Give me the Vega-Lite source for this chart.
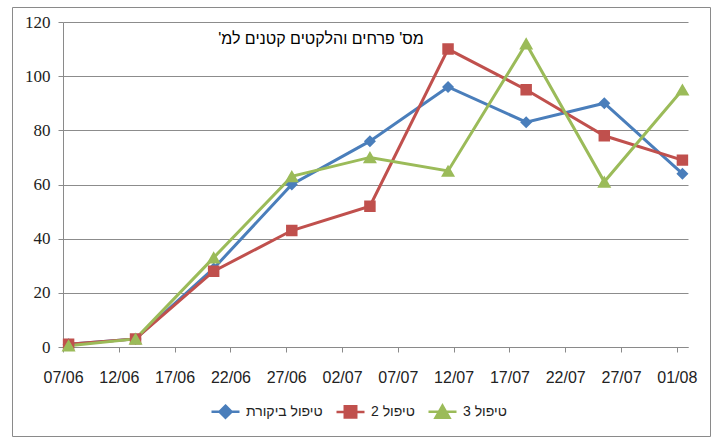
{
  "$schema": "https://vega.github.io/schema/vega-lite/v6.json",
  "width": 698,
  "height": 429,
  "autosize": "none",
  "padding": {"left": 12, "top": 7, "right": 7, "bottom": 3},
  "background": "white",
  "config": {
    "view": {"stroke": "#8a8a8a", "strokeWidth": 1},
    "font": "Liberation Sans"
  },
  "title": {
    "text": "מס' פרחים והלקטים קטנים למ'\u200F",
    "orient": "top",
    "anchor": "middle",
    "frame": "group",
    "offset": -53,
    "dx": -40,
    "baseline": "alphabetic",
    "font": "Liberation Sans",
    "fontSize": 16,
    "fontWeight": "normal",
    "color": "#000000"
  },
  "data": {
    "values": [
      {"date": "2012-06-07T12:00:00Z", "series": "טיפול ביקורת", "value": 1},
      {"date": "2012-06-13T12:00:00Z", "series": "טיפול ביקורת", "value": 3},
      {"date": "2012-06-20T12:00:00Z", "series": "טיפול ביקורת", "value": 29},
      {"date": "2012-06-27T12:00:00Z", "series": "טיפול ביקורת", "value": 60},
      {"date": "2012-07-04T12:00:00Z", "series": "טיפול ביקורת", "value": 76},
      {"date": "2012-07-11T12:00:00Z", "series": "טיפול ביקורת", "value": 96},
      {"date": "2012-07-18T12:00:00Z", "series": "טיפול ביקורת", "value": 83},
      {"date": "2012-07-25T12:00:00Z", "series": "טיפול ביקורת", "value": 90},
      {"date": "2012-08-01T12:00:00Z", "series": "טיפול ביקורת", "value": 64},
      {"date": "2012-06-07T12:00:00Z", "series": "טיפול 2", "value": 1},
      {"date": "2012-06-13T12:00:00Z", "series": "טיפול 2", "value": 3},
      {"date": "2012-06-20T12:00:00Z", "series": "טיפול 2", "value": 28},
      {"date": "2012-06-27T12:00:00Z", "series": "טיפול 2", "value": 43},
      {"date": "2012-07-04T12:00:00Z", "series": "טיפול 2", "value": 52},
      {"date": "2012-07-11T12:00:00Z", "series": "טיפול 2", "value": 110},
      {"date": "2012-07-18T12:00:00Z", "series": "טיפול 2", "value": 95},
      {"date": "2012-07-25T12:00:00Z", "series": "טיפול 2", "value": 78},
      {"date": "2012-08-01T12:00:00Z", "series": "טיפול 2", "value": 69},
      {"date": "2012-06-07T12:00:00Z", "series": "טיפול 3", "value": 0.5},
      {"date": "2012-06-13T12:00:00Z", "series": "טיפול 3", "value": 3},
      {"date": "2012-06-20T12:00:00Z", "series": "טיפול 3", "value": 33},
      {"date": "2012-06-27T12:00:00Z", "series": "טיפול 3", "value": 63},
      {"date": "2012-07-04T12:00:00Z", "series": "טיפול 3", "value": 70},
      {"date": "2012-07-11T12:00:00Z", "series": "טיפול 3", "value": 65},
      {"date": "2012-07-18T12:00:00Z", "series": "טיפול 3", "value": 112},
      {"date": "2012-07-25T12:00:00Z", "series": "טיפול 3", "value": 61},
      {"date": "2012-08-01T12:00:00Z", "series": "טיפול 3", "value": 95}
    ]
  },
  "encoding": {
    "x": {
      "field": "date",
      "type": "temporal",
      "title": null,
      "scale": {
        "type": "utc",
        "domain": [
          {"year": 2012, "month": 6, "date": 7, "utc": true},
          {"year": 2012, "month": 8, "date": 2, "utc": true}
        ],
        "range": [51, 676]
      },
      "axis": {
        "orient": "bottom",
        "offset": -89,
        "values": [
          {"year": 2012, "month": 6, "date": 7, "utc": true},
          {"year": 2012, "month": 6, "date": 12, "utc": true},
          {"year": 2012, "month": 6, "date": 17, "utc": true},
          {"year": 2012, "month": 6, "date": 22, "utc": true},
          {"year": 2012, "month": 6, "date": 27, "utc": true},
          {"year": 2012, "month": 7, "date": 2, "utc": true},
          {"year": 2012, "month": 7, "date": 7, "utc": true},
          {"year": 2012, "month": 7, "date": 12, "utc": true},
          {"year": 2012, "month": 7, "date": 17, "utc": true},
          {"year": 2012, "month": 7, "date": 22, "utc": true},
          {"year": 2012, "month": 7, "date": 27, "utc": true},
          {"year": 2012, "month": 8, "date": 1, "utc": true}
        ],
        "labelExpr": "utcFormat(datum.value, '%d/%m')",
        "grid": false,
        "domainColor": "#8a8a8a",
        "tickColor": "#8a8a8a",
        "tickSize": 5,
        "labelPadding": 17,
        "labelDx": 6,
        "labelFont": "Liberation Sans",
        "labelFontSize": 16,
        "labelColor": "#222222",
        "labelAngle": 0,
        "labelOverlap": false,
        "labelFlush": false
      }
    },
    "y": {
      "field": "value",
      "type": "quantitative",
      "title": null,
      "scale": {"domain": [0, 120], "range": [340, 15], "nice": false, "zero": true},
      "axis": {
        "orient": "left",
        "offset": -51,
        "values": [0, 20, 40, 60, 80, 100, 120],
        "grid": true,
        "gridColor": "#8c8c8c",
        "gridWidth": 1,
        "domainColor": "#8a8a8a",
        "tickColor": "#8a8a8a",
        "tickSize": 5,
        "labelPadding": 8,
        "labelFont": "Liberation Serif",
        "labelFontSize": 17,
        "labelColor": "#222222"
      }
    },
    "color": {
      "field": "series",
      "type": "nominal",
      "scale": {
        "domain": ["טיפול ביקורת", "טיפול 2", "טיפול 3"],
        "range": ["#4a7ebb", "#c0504d", "#9bbb59"]
      },
      "legend": {
        "orient": "none",
        "legendX": 198,
        "legendY": 389,
        "direction": "horizontal",
        "title": null,
        "padding": 0,
        "symbolSize": 784,
        "symbolStrokeWidth": 2.5,
        "columnPadding": 8,
        "labelOffset": 5,
        "labelFont": "Liberation Sans",
        "labelFontSize": 14,
        "labelColor": "#222222",
        "encode": {
          "symbols": {
            "update": {
              "stroke": {"scale": "color", "field": "value"},
              "strokeWidth": {"value": 2.5}
            }
          }
        }
      }
    }
  },
  "layer": [
    {"mark": {"type": "line", "strokeWidth": 3}},
    {
      "mark": {"type": "point", "filled": true, "opacity": 1, "size": 784},
      "encoding": {
        "shape": {
          "field": "series",
          "type": "nominal",
          "scale": {
            "domain": ["טיפול ביקורת", "טיפול 2", "טיפול 3"],
            "range": [
              "M-1,0H1M0,-0.43L0.43,0L0,0.43L-0.43,0Z",
              "M-1,0H1M-0.41,-0.41H0.41V0.41H-0.41Z",
              "M-1,0H1M0,-0.45L0.5,0.42H-0.5Z"
            ]
          }
        }
      }
    }
  ]
}
